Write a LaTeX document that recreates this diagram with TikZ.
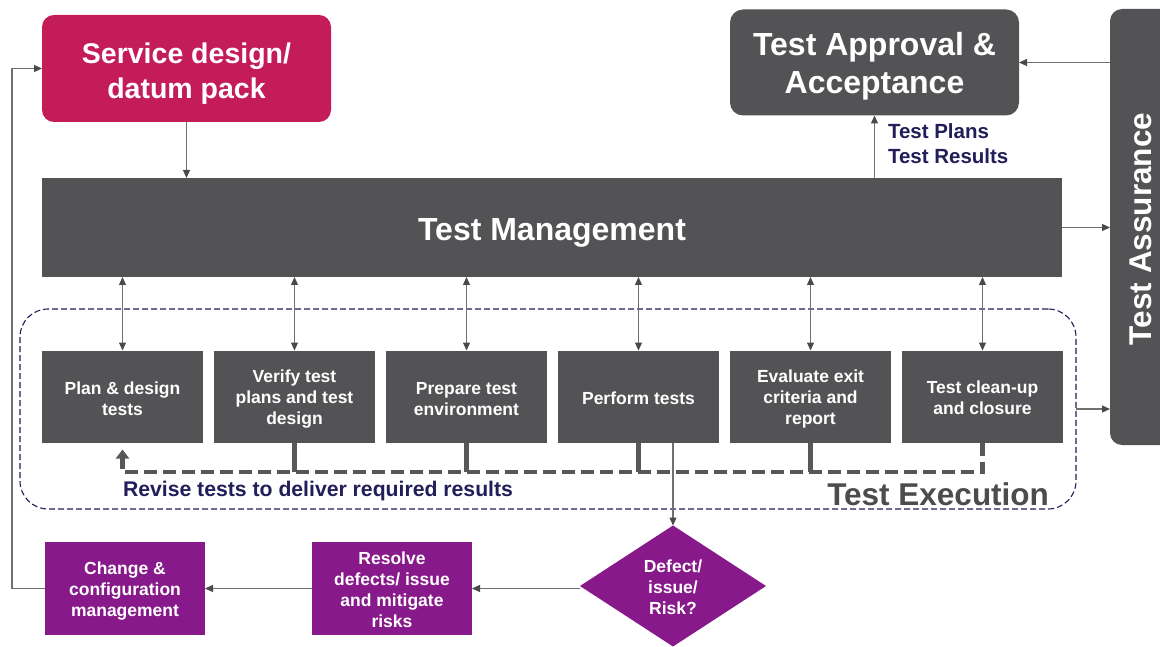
\documentclass[tikz,border=0pt]{standalone}
\usepackage{fontspec}
\setmainfont{Liberation Sans}
\usetikzlibrary{arrows.meta,shapes.geometric,calc}
\definecolor{crimson}{HTML}{C41C59}
\definecolor{slate}{HTML}{535355}
\definecolor{plum}{HTML}{87198A}
\definecolor{navy}{HTML}{211E5A}
\definecolor{wire}{HTML}{707070}
\definecolor{tipgray}{HTML}{4A4A4A}
\definecolor{railgray}{HTML}{585858}
\definecolor{labelgray}{HTML}{4C4C4E}

\begin{document}
\begin{tikzpicture}[x=1pt,y=-1pt,
  >={Triangle[length=8pt,width=7pt,color=tipgray]},
  every node/.style={inner sep=0pt,outer sep=0pt},
  big/.style={text=white,align=center,font=\fontsize{32}{38}\selectfont\bfseries},
  small/.style={text=white,align=center,font=\fontsize{17.5}{21}\selectfont\bfseries},
  stepbox/.style={fill=slate,minimum width=161pt,minimum height=92pt},
  actbox/.style={fill=plum,minimum width=160pt,minimum height=93pt},
  wireline/.style={draw=wire,line width=1.2pt},
  stub/.style={draw=railgray,line width=4.5pt},
  rail/.style={draw=railgray,line width=4.5pt,dash pattern=on 13pt off 6pt},
  navylabel/.style={text=navy,font=\fontsize{20.5}{25}\selectfont\bfseries,align=left}]

\useasboundingbox (0,0) rectangle (1160,647);
\fill[white] (0,0) rectangle (1160,647);

% test execution region
\node[draw=navy,line width=1.1pt,dash pattern=on 6pt off 3pt,rounded corners=28pt,
  minimum width=1056pt,minimum height=200pt] (exec) at (548,409) {};

% top level blocks
\node[fill=crimson,rounded corners=12pt,minimum width=289pt,minimum height=107pt] (sd) at (186.5,68.5) {};
\node[big,font=\fontsize{28.5}{35}\selectfont\bfseries] (sdt) at ($(sd)+(0,5)$) {Service design/\\datum pack};
\node[fill=slate,minimum width=1020pt,minimum height=99pt] (tm) at (552,227.5) {};
\node[big] (tmt) at ($(tm)+(0,5)$) {Test Management};
\node[fill=slate,rounded corners=13pt,minimum width=289pt,minimum height=106pt] (ta) at (874.5,62.5) {};
\node[big] (tat) at ($(ta)+(0,4)$) {Test Approval \&\\Acceptance};
\node[fill=slate,rounded corners=12pt,minimum width=62pt,minimum height=436pt] (tas) at (1141,227) {};
\node[big,font=\fontsize{31.5}{38}\selectfont\bfseries] (tast) at ($(tas)+(0,2)$) {\rotatebox{90}{Test Assurance}};

% execution steps
\node[stepbox] (b1) at (122.5,396.5) {};
\node[stepbox] (b2) at (294.5,396.5) {};
\node[stepbox] (b3) at (466.5,396.5) {};
\node[stepbox] (b4) at (638.5,396.5) {};
\node[stepbox] (b5) at (810.5,396.5) {};
\node[stepbox] (b6) at (982.5,396.5) {};
\node[small] (b1t) at ($(b1)+(0,2)$) {Plan \& design\\tests};
\node[small] (b2t) at ($(b2)+(0,2.5)$) {Verify test\\plans and test\\design};
\node[small] (b3t) at ($(b3)+(0,2.5)$) {Prepare test\\environment};
\node[small] (b4t) at ($(b4)+(0,1.5)$) {Perform tests};
\node[small] (b5t) at ($(b5)+(0,2.5)$) {Evaluate exit\\criteria and\\report};
\node[small] (b6t) at ($(b6)+(0,1.5)$) {Test clean-up\\and closure};

% defect handling
\node[diamond,fill=plum,minimum width=186pt,minimum height=121pt] (dm) at (673,586) {};
\node[small] (dmt) at ($(dm)+(0,1.5)$) {Defect/\\issue/\\Risk?};
\node[actbox] (rs) at (392,588.5) {};
\node[small] (rst) at ($(rs)+(0,1.5)$) {Resolve\\defects/ issue\\and mitigate\\risks};
\node[actbox] (cc) at (125,588.5) {};
\node[small] (cct) at ($(cc)+(0,2.5)$) {Change \&\\configuration\\management};

% labels
\node[navylabel,anchor=west] (tr) at (888,144) {Test Plans\\Test Results};
\node[navylabel,font=\fontsize{21.2}{25}\selectfont\bfseries,anchor=west] (rv) at (123,491.5) {Revise tests to deliver required results};
\node[anchor=east,text=labelgray,font=\fontsize{31.5}{36}\selectfont\bfseries] (te) at (1049,494) {Test Execution};

% feedback rail
\coordinate (railpt) at (0,472);
\foreach \b in {b2,b3,b4,b5}
  \draw[stub] (\b.south) -- (\b.south |- railpt);
\draw[rail,-{Triangle[length=9pt,width=13pt,color=railgray]}]
  (b6.south) -- (b6.south |- railpt) -- (b1.south |- railpt) -- ($(b1.south)+(0,7)$);

% connectors
\foreach \b in {b1,b2,b3,b4,b5,b6}
  \draw[wireline,<->] (\b.north |- tm.south) -- (\b.north);
\draw[wireline,->] (sd.south) -- (sd.south |- tm.north);
\draw[wireline,->] (tm.north -| ta.south) -- (ta.south);
\draw[wireline,->] (tas.west |- ta.east) -- (ta.east);
\draw[wireline,->] (tm.east) -- (tm.east -| tas.west);
\draw[wireline,->] (exec.east) -- (exec.east -| tas.west);
\draw[wireline,->] (b4.south -| dm.north) -- (dm.north);
\draw[wireline,->] (dm.west |- rs.east) -- (rs.east);
\draw[wireline,->] (rs.west) -- (cc.east);
\draw[wireline,->] (cc.west) -- ++(-33,0) |- (sd.west);

\end{tikzpicture}
\end{document}
